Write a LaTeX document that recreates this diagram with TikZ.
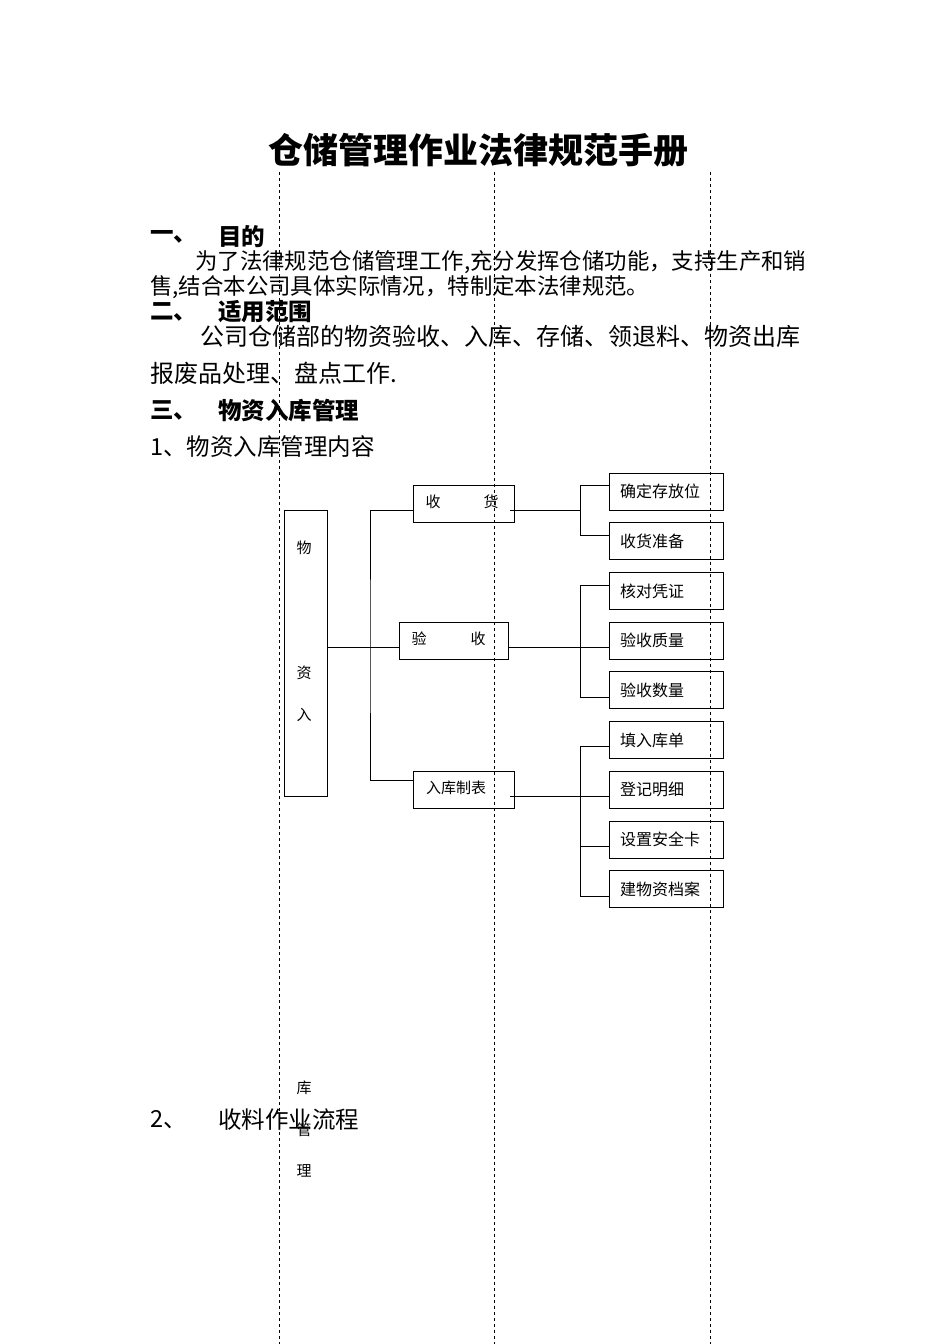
\documentclass[tikz,border=0pt]{standalone}
\usepackage{fontspec}
\setmainfont{Noto Sans CJK SC}
\usetikzlibrary{positioning}
\begin{document}
\begin{tikzpicture}[
    x=1pt, y=-1pt,
    txt/.style={anchor=west, inner sep=0pt, font=\fontsize{22.4}{22.4}\selectfont},
    head/.style={anchor=west, inner sep=0pt, font=\fontsize{23.5}{23.5}\selectfont\bfseries},
    box/.style={draw=black, thick, rectangle, minimum width=114pt, minimum height=37pt, inner sep=0pt},
    leaf/.style={box, text width=100pt, align=left, font=\fontsize{16}{16}\selectfont},
    char/.style={inner sep=0pt, font=\fontsize{15}{15}\selectfont},
    line/.style={draw, thick},
    guide/.style={dashed, thick}
]
\useasboundingbox (0,0) rectangle (950,1344);

% Title and text
\node[inner sep=0pt, font=\fontsize{35}{35}\selectfont\bfseries] (title) at (478,150) {仓储管理作业法律规范手册};
\node[head] (h1) at (150,237) {一、};
\node[head] (h1t) at (218,237) {目的};
\node[txt] (p1) at (195,262) {为了法律规范仓储管理工作,充分发挥仓储功能，支持生产和销};
\node[txt] (p2) at (150,287) {售,结合本公司具体实际情况，特制定本法律规范。};
\node[head] (h2) at (150,312) {二、};
\node[head] (h2t) at (218,312) {适用范围};
\node[txt, font=\fontsize{24}{24}\selectfont] (p3) at (200,336) {公司仓储部的物资验收、入库、存储、领退料、物资出库};
\node[txt, font=\fontsize{24}{24}\selectfont] (p4) at (150,373) {报废品处理、盘点工作.};
\node[head] (h3) at (150,410) {三、};
\node[head] (h3t) at (218,410) {物资入库管理};
\node[txt, font=\fontsize{23.5}{23.5}\selectfont] (s1) at (150,447) {1、物资入库管理内容};
\node[txt, font=\fontsize{23.5}{23.5}\selectfont] (s2) at (150,1120) {2、};
\node[txt, font=\fontsize{23.5}{23.5}\selectfont] (s2t) at (218,1120) {收料作业流程};

% Root box
\node[draw, thick, minimum width=43pt, minimum height=286pt, inner sep=0pt] (root) at (305.5,653) {};
\foreach \c/\y in {物/548, 资/673, 入/715, 库/1088, 管/1130, 理/1171}
  \node[char] at (304,\y) {\c};

% Middle boxes
\node[box, minimum width=101pt] (recv) at (463.5,503.5) {};
\node[char] at (433,502) {收}; \node[char] at (491,502) {货};
\node[box, minimum width=109pt] (check) at (453.5,640.5) {};
\node[char] at (419,639) {验}; \node[char] at (478,639) {收};
\node[box, minimum width=101pt] (form) at (463.5,789.5) {};
\node[char, anchor=west] at (426,788) {入库制表};

% Leaf boxes
\foreach \n/\t [count=\i from 0] in {a/确定存放位, b/收货准备, c/核对凭证, d/验收质量, e/验收数量, f/填入库单, g/登记明细, h/设置安全卡, k/建物资档案}
  \node[leaf] (\n) at (666,{491.5+49.7*\i}) {\hspace{4pt}\t};

% Trunk
\coordinate (tr) at (370,647);
\draw[line] (root.east |- tr) -- (tr);
\draw[line] (recv.west |- 0,510) -| (tr) |- (form.west |- 0,780);
\draw[line] (tr) -- (check.west |- tr);

% Branches
\draw[line] (510,510) -- (580,510);
\draw[line] (a.west |- 0,485) -| (580,535) -- (b.west |- 0,535);
\draw[line] (check.east |- 0,647) -- (d.west |- 0,647);
\draw[line] (c.west |- 0,585) -| (580,697) -- (e.west |- 0,697);
\draw[line] (510,796) -- (g.west |- 0,796);
\draw[line] (f.west |- 0,746) -| (580,896) -- (k.west |- 0,896);
\draw[line] (580,846) -- (h.west |- 0,846);

% Guide lines
\foreach \x in {279,494,710}
  \draw[guide] (\x,172) -- (\x,1344);
\end{tikzpicture}
\end{document}
